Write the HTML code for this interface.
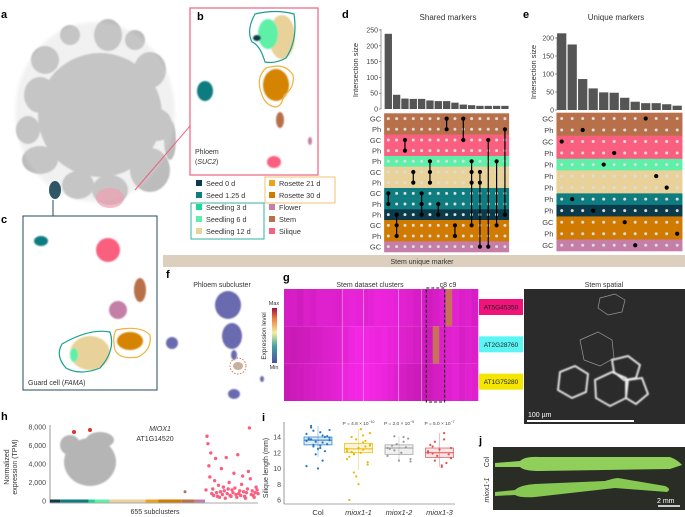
<!DOCTYPE html>
<html><head><meta charset="utf-8">
<style>
html,body{margin:0;padding:0;background:#fff;}
svg{display:block;font-family:"Liberation Sans",sans-serif;}
</style></head>
<body>
<svg id="fig" width="685" height="517" viewBox="0 0 685 517" xmlns="http://www.w3.org/2000/svg">
<defs>
<filter id="blur1"><feGaussianBlur stdDeviation="0.8"/></filter>
<filter id="blur2"><feGaussianBlur stdDeviation="1.6"/></filter>
</defs>

<!-- Panel a -->
<g>
<text x="1" y="18" font-size="11" font-weight="bold">a</text>
<g fill="#bcbcbc" filter="url(#blur1)">
<ellipse cx="100" cy="115" rx="62" ry="62"/>
<ellipse cx="108" cy="35" rx="14" ry="16"/>
<ellipse cx="70" cy="35" rx="10" ry="10"/>
<ellipse cx="45" cy="60" rx="14" ry="14"/>
<ellipse cx="40" cy="95" rx="16" ry="18"/>
<ellipse cx="28" cy="130" rx="12" ry="14"/>
<ellipse cx="40" cy="160" rx="18" ry="14"/>
<ellipse cx="78" cy="185" rx="16" ry="14"/>
<ellipse cx="110" cy="190" rx="18" ry="15"/>
<ellipse cx="150" cy="170" rx="20" ry="22"/>
<ellipse cx="158" cy="125" rx="14" ry="16"/>
<ellipse cx="150" cy="70" rx="16" ry="18"/>
<ellipse cx="135" cy="40" rx="10" ry="10"/>
<ellipse cx="170" cy="140" rx="6" ry="20"/>
</g>
<ellipse cx="95" cy="112" rx="80" ry="90" fill="#d8d8d8" opacity="0.35" filter="url(#blur2)"/>
<ellipse cx="110" cy="198" rx="14" ry="10" fill="#f0a0b0" opacity="0.7"/>
<ellipse cx="55" cy="190" rx="6" ry="9" fill="#0b3a4a" opacity="0.85"/>
<line x1="135" y1="190" x2="190" y2="126" stroke="#f06080" stroke-width="1"/>
<line x1="53" y1="200" x2="53" y2="216" stroke="#244a5a" stroke-width="1"/>
</g>

<!-- Panel b -->
<g>
<rect x="190" y="8" width="128" height="167" fill="none" stroke="#f06080" stroke-width="1.2"/>
<text x="197" y="20" font-size="11" font-weight="bold">b</text>
<g filter="url(#blur1)">
<ellipse cx="282" cy="37" rx="13" ry="22" fill="#e8d29a"/>
<ellipse cx="268" cy="34" rx="10" ry="15" fill="#5ef0a8"/>
<ellipse cx="257" cy="38" rx="4" ry="3" fill="#0b3a4a"/>
<ellipse cx="276" cy="85" rx="13" ry="16" fill="#d48400"/>
<ellipse cx="205" cy="91" rx="8" ry="10" fill="#0f7c80"/>
<ellipse cx="280" cy="120" rx="4" ry="8" fill="#b8704a"/>
<ellipse cx="310" cy="141" rx="2" ry="4" fill="#c47ea8"/>
<ellipse cx="274" cy="162" rx="7" ry="6" fill="#fb5f80"/>
</g>
<path d="M255 14 Q276 9 294 14 Q298 40 286 58 Q275 64 265 62 Q260 45 252 42 Q246 30 255 14Z" fill="none" stroke="#17a090" stroke-width="1.2"/>
<path d="M266 68 Q285 62 293 75 Q295 88 284 95 Q282 106 276 107 Q266 106 262 95 Q255 78 266 68Z" fill="none" stroke="#f0b040" stroke-width="1.2"/>
<text x="195" y="154" font-size="7" fill="#333">Phloem</text>
<text x="195" y="164" font-size="7" fill="#333">(<tspan font-style="italic">SUC2</tspan>)</text>
</g>

<!-- Legend -->
<g id="legend" font-size="7.3" fill="#333">
<rect x="191" y="203" width="73" height="36" fill="none" stroke="#30b0a0" stroke-width="1"/>
<rect x="265" y="177" width="70" height="26" fill="none" stroke="#f0c070" stroke-width="1"/>
</g>

<!-- Panel c -->
<g>
<text x="1" y="223" font-size="11" font-weight="bold">c</text>
<rect x="23" y="216" width="134" height="174" fill="none" stroke="#244a5a" stroke-width="1"/>
<g filter="url(#blur1)">
<ellipse cx="41" cy="241" rx="7" ry="5" fill="#0f7c80"/>
<ellipse cx="108" cy="250" rx="12" ry="12" fill="#fb5f80"/>
<ellipse cx="140" cy="290" rx="6" ry="12" fill="#b8704a"/>
<ellipse cx="118" cy="310" rx="9" ry="9" fill="#c47ea8"/>
<ellipse cx="90" cy="353" rx="20" ry="17" fill="#e8d29a"/>
<ellipse cx="74" cy="355" rx="4" ry="7" fill="#5ef0a8"/>
<ellipse cx="130" cy="341" rx="13" ry="9" fill="#d48400"/>
</g>
<path d="M62 344 Q90 328 110 332 Q116 350 100 368 Q80 376 66 368 Q55 356 62 344Z" fill="none" stroke="#17a090" stroke-width="1.2"/>
<path d="M116 330 Q140 325 150 335 Q152 350 138 357 Q120 360 115 350 Q112 338 116 330Z" fill="none" stroke="#f0b040" stroke-width="1.2"/>
<text x="28" y="385" font-size="7" fill="#333">Guard cell (<tspan font-style="italic">FAMA</tspan>)</text>
</g>

<!-- Panel d -->
<g id="panelD">
<text x="342" y="18" font-size="11" font-weight="bold">d</text>
<text x="448" y="20" font-size="8" text-anchor="middle" fill="#333">Shared markers</text>
<text transform="translate(358,70) rotate(-90)" font-size="7.5" text-anchor="middle" fill="#333">Intersection size</text>
</g>
<!-- Panel e -->
<g id="panelE">
<text x="523" y="18" font-size="11" font-weight="bold">e</text>
<text x="616" y="20" font-size="8" text-anchor="middle" fill="#333">Unique markers</text>
<text transform="translate(536,72) rotate(-90)" font-size="7.5" text-anchor="middle" fill="#333">Intersection size</text>
</g>

<!-- Stem unique band -->
<rect x="163" y="255" width="522" height="12" fill="#dccfbd"/>
<text x="422" y="264" font-size="7" text-anchor="middle" fill="#333">Stem unique marker</text>

<!-- Panel f -->
<g>
<text x="166" y="278" font-size="11" font-weight="bold">f</text>
<text x="222" y="287" font-size="7" text-anchor="middle" fill="#333">Phloem subcluster</text>
<g fill="#6a6ab0" filter="url(#blur1)">
<ellipse cx="228" cy="305" rx="13" ry="14"/>
<ellipse cx="232" cy="336" rx="10" ry="13"/>
<ellipse cx="234" cy="355" rx="3" ry="5"/>
<ellipse cx="172" cy="343" rx="6" ry="6"/>
<ellipse cx="234" cy="394" rx="6" ry="5"/>
<ellipse cx="262" cy="379" rx="2" ry="3"/>
</g>
<ellipse cx="238" cy="366" rx="5" ry="4" fill="#c8b0a0"/>
<circle cx="238" cy="366" r="8" fill="none" stroke="#d07030" stroke-width="0.9" stroke-dasharray="1.5 1.5"/>
<defs><linearGradient id="spec" x1="0" y1="1" x2="0" y2="0">
<stop offset="0" stop-color="#5050a0"/><stop offset="0.3" stop-color="#40a0a0"/><stop offset="0.55" stop-color="#f0f0a0"/><stop offset="0.8" stop-color="#f08040"/><stop offset="1" stop-color="#a01040"/></linearGradient></defs>
<rect x="272" y="308" width="5" height="55" fill="url(#spec)"/>
<text x="274" y="305" font-size="5.5" text-anchor="middle" fill="#333">Max</text>
<text x="274" y="369" font-size="5.5" text-anchor="middle" fill="#333">Min</text>
<text transform="translate(266,336) rotate(-90)" font-size="6.5" text-anchor="middle" fill="#333">Expression level</text>
</g>

<!-- Panel g -->
<g id="panelG">
<text x="283" y="281" font-size="11" font-weight="bold">g</text>
<text x="370" y="287" font-size="7" text-anchor="middle" fill="#333">Stem dataset clusters</text>
<text x="448" y="287" font-size="7" text-anchor="middle" fill="#333">c8 c9</text>
</g>

<!-- Micrograph -->
<g>
<text x="604" y="287" font-size="7" text-anchor="middle" fill="#333">Stem spatial</text>
<rect x="524" y="289" width="161" height="135" fill="#2b2b2b"/>
<g fill="none" stroke="#c8c8c8" stroke-width="0.7" opacity="0.7">
<path d="M600 298 L615 294 L625 300 L622 312 L608 315 L598 308Z"/>
<path d="M580 340 L598 332 L612 340 L614 358 L600 366 L584 360Z"/>
</g>
<g fill="none" stroke="#f2f2f2" stroke-width="1.8" filter="url(#blur1)">
<path d="M560 372 L575 366 L588 374 L586 392 L572 398 L558 390Z"/>
<path d="M595 380 L612 372 L626 378 L626 398 L610 406 L596 398Z"/>
<path d="M612 360 L628 356 L640 365 L636 378 L624 380 L614 372Z"/>
<path d="M628 380 L642 378 L648 394 L636 404 L626 398Z"/>
</g>
<line x1="527" y1="421" x2="634" y2="421" stroke="#fff" stroke-width="2"/>
<text x="528" y="417" font-size="7" fill="#fff">100 µm</text>
</g>

<!-- Panel h -->
<g id="panelH">
<text x="1" y="420" font-size="11" font-weight="bold">h</text>
<text transform="translate(9,467) rotate(-90)" font-size="7" text-anchor="middle" fill="#333">Normalized</text>
<text transform="translate(17,467) rotate(-90)" font-size="7" text-anchor="middle" fill="#333">expression (TPM)</text>
<g fill="#b5b5b5" filter="url(#blur1)">
<ellipse cx="90" cy="462" rx="26" ry="24"/>
<ellipse cx="70" cy="445" rx="10" ry="10"/>
<ellipse cx="100" cy="440" rx="14" ry="8"/>
</g>
<circle cx="74" cy="432" r="2" fill="#e03030"/><circle cx="90" cy="430" r="2" fill="#e03030"/>
<text x="160" y="431" font-size="7" text-anchor="middle" font-style="italic" fill="#333">MIOX1</text>
<text x="155" y="441" font-size="7" text-anchor="middle" fill="#333">AT1G14520</text>
<text x="155" y="514" font-size="7" text-anchor="middle" fill="#333">655 subclusters</text>
</g>

<!-- Panel i -->
<g id="panelI">
<text x="262" y="421" font-size="11" font-weight="bold">i</text>
<text transform="translate(268,468) rotate(-90)" font-size="7" text-anchor="middle" fill="#333">Silique length (mm)</text>
</g>

<!-- Panel j -->
<g>
<text x="479" y="444" font-size="11" font-weight="bold">j</text>
<rect x="493" y="447" width="192" height="63" fill="#2a2c26"/>
<path d="M495 463 L520 461 Q525 456 540 457 L670 457 Q678 460 682 465 L670 469 L540 471 Q524 471 520 467 L495 467Z" fill="#8fcf5a"/>
<path d="M495 492 L515 490 Q520 485 535 484 L605 481 Q615 478 618 478 L665 486 Q672 489 667 492 L615 488 L535 497 Q520 498 515 495 L495 496Z" fill="#86c852"/>
<text transform="translate(489,462) rotate(-90)" font-size="7" text-anchor="middle" fill="#333">Col</text>
<text transform="translate(489,490) rotate(-90)" font-size="7" text-anchor="middle" font-style="italic" fill="#333">miox1-1</text>
<line x1="658" y1="506" x2="680" y2="506" stroke="#fff" stroke-width="1.5"/>
<text x="657" y="503" font-size="7" fill="#fff">2 mm</text>
</g>
</svg>

<script>
// ---- data ----
const legendLabels = ["Seed 0 d","Seed 1.25 d","Seedling 3 d","Seedling 6 d","Seedling 12 d","Rosette 21 d","Rosette 30 d","Flower","Stem","Silique"];
const legendColors = ["#0b3a4a","#0f7c80","#18d89a","#5ef0a8","#e8d29a","#eba21d","#d07a00","#c47ea8","#b8704a","#fb5f80"];

const dSizes = [238,45,33,32,32,27,25,25,20,14,12,10,10,10,10];
const dRowLabels = ["GC","Ph","GC","Ph","Ph","GC","Ph","GC","Ph","Ph","GC","Ph","GC"];
const dRowColors = ["#b8704a","#b8704a","#fb5f80","#fb5f80","#5ef0a8","#e8d29a","#e8d29a","#0f7c80","#0f7c80","#0b3a4a","#d07a00","#d07a00","#c47ea8"];
const dSets = [[7,8],[9,10,11],[2,3],[5,6],[7,8,9],[4,5,6],[8,9],[0,1],[10,11],[0,2],[4,5,6,10],[5,6,12],[2,12],[4,10],[1,9]];
const dTicks = [0,50,100,150,200,250];

const eSizes = [213,182,86,60,49,48,34,23,19,19,16,12];
const eRowLabels = ["GC","Ph","GC","Ph","Ph","Ph","Ph","Ph","Ph","GC","Ph","GC"];
const eRowColors = ["#b8704a","#b8704a","#fb5f80","#fb5f80","#5ef0a8","#e8d29a","#e8d29a","#0f7c80","#0b3a4a","#d07a00","#d07a00","#c47ea8"];
const eSets = [2,7,1,8,4,3,9,11,0,5,6,10];
const eTicks = [0,50,100,150,200];

const gGenes = ["AT5G45350","AT2G28760","AT1G75280"];
const gGeneColors = ["#f0147a","#5cf5f5","#f5e600"];
const gRow1 = [0.45,0.5,0.4,0.55,0.5,0.6,0.62,0.6,0.55,0.7,0.75,0.7,0.65,0.72,0.8,0.78,0.75,0.7,0.65,0.6,0.5,0.45,0.4,0.5,0.6,0.75,0.65,0.55,0.6,0.5];
const gRow2 = [0.35,0.3,0.35,0.4,0.45,0.5,0.55,0.6,0.65,0.7,0.85,0.9,0.88,0.85,0.8,0.85,0.75,0.7,0.6,0.55,0.45,0.4,0.35,0.5,0.55,0.6,0.65,0.5,0.6,0.55];
const gRow3 = [0.3,0.35,0.4,0.45,0.5,0.55,0.6,0.65,0.7,0.8,0.88,0.92,0.95,0.9,0.85,0.8,0.7,0.6,0.5,0.4,0.35,0.3,0.35,0.45,0.5,0.6,0.7,0.55,0.65,0.6];

const hTicks = [0,2000,4000,6000,8000];
const hSegColors = ["#0b3a4a","#0f7c80","#18d89a","#5ef0a8","#e8d29a","#eba21d","#d07a00","#b8704a","#c47ea8"];
const hSegCounts = [20,55,12,28,70,25,45,25,20];
const hSilique = [1200,7000,6200,3800,2600,5200,800,1300,600,2200,4600,900,500,1700,400,1000,3500,700,1500,1100,300,4700,800,1300,2000,600,500,1200,900,3000,1400,700,400,5000,800,1100,600,1800,2700,1000,500,300,900,1300,3200,7900,2400,700,1100,600,400,900,1500,1200,800];

const iGroups = ["Col","miox1-1","miox1-2","miox1-3"];
const iColors = ["#1f78c8","#e8b800","#9a9a9a","#e05050"];
const iQ1 = [13.0,12.0,11.8,11.4];
const iMed = [13.6,12.5,12.6,12.0];
const iQ3 = [14.0,13.2,13.0,12.6];
const iLo = [11.5,9.8,10.9,10.2];
const iHi = [15.4,15.0,14.1,14.5];
const iPvals = ["","P = 4.8 × 10","P = 2.0 × 10","P = 5.0 × 10"];
const iPexp = ["","−10","−5","−7"];
const iColPts = [13.5,14.2,12.8,13.9,14.6,15.2,13.1,12.5,13.7,14.0,11.8,10.3,13.3,14.8,13.6,12.9,15.4,14.1,10.0,13.8,12.2,13.4,14.4,11.0,13.0,14.9,12.6,13.7];
const iM1Pts = [12.5,13.3,11.9,14.5,15.0,12.1,10.5,8.0,6.0,12.8,13.7,11.2,12.4,9.5,13.0,12.0,14.0,10.8,12.6,11.5,13.5,9.0,12.2,14.2,11.8,12.9];
const iM2Pts = [12.6,13.4,14.1,11.2,12.0,12.9,13.8,11.0,12.5,12.7,13.1,11.6,14.0,12.3,10.9];
const iM3Pts = [12.0,14.5,13.4,11.3,10.2,12.8,11.8,12.4,13.0,10.7,11.6,12.2,13.7,11.0,12.6,10.4,11.9];
const iTicks = [6,8,10,12,14];

// ---- helpers ----
const NS = "http://www.w3.org/2000/svg";
const fig = document.getElementById("fig");
function mk(tag, attrs, parent){
  const e = document.createElementNS(NS, tag);
  for (const k in attrs) e.setAttribute(k, attrs[k]);
  (parent||fig).appendChild(e);
  return e;
}

// legend
const legend = document.getElementById("legend");
legendLabels.forEach((lab,i)=>{
  const col = i<5?0:1, row = i<5?i:i-5;
  const x = col? 269:196, y = 180+row*12;
  const r = mk("rect",{x:x,y:y,width:6,height:6,fill:legendColors[i]},legend);
  
  
  const t = mk("text",{x:x+10,y:y+6,"font-size":7.3,fill:"#333"},legend);
  t.textContent = lab;
  
  
});

// upset drawer
function upset(g, sizes, ticks, tMax, axX, yZero, yTop, colX0, colStep, mTop, mBot, rowLabels, rowColors, setsFn){
  const yS = v => yZero - (v/tMax)*(yZero-yTop);
  const ax = mk("line",{x1:axX,y1:yTop-1,x2:axX,y2:yZero,stroke:"#555","stroke-width":0.6},g);
  
  
  ticks.forEach(t=>{
    mk("line",{x1:axX-2,y1:yS(t),x2:axX,y2:yS(t),stroke:"#555","stroke-width":0.6},g);
    const tx = mk("text",{x:axX-3,y:yS(t)+2.5,"font-size":7,"text-anchor":"end",fill:"#444"},g);
    tx.textContent = t;
    
    
  });
  const bw = colStep*0.88;
  sizes.forEach((v,i)=>{
    const cx = colX0 + i*colStep;
    const b = mk("rect",{x:cx-bw/2,y:yS(v),width:bw,height:yZero-yS(v),fill:"#555"},g);
    
    
  });
  const rh = (mBot-mTop)/rowLabels.length;
  const x0 = colX0-colStep/2, x1 = colX0+(sizes.length-0.5)*colStep;
  rowLabels.forEach((lab,r)=>{
    const band = mk("rect",{x:x0,y:mTop+r*rh,width:x1-x0,height:rh+0.3,fill:rowColors[r]},g);
    
    
    const t = mk("text",{x:x0-3,y:mTop+r*rh+rh/2+2.8,"font-size":7.5,"text-anchor":"end",fill:"#444"},g);
    t.textContent = lab;
    
    
    sizes.forEach((v,i)=>{
      mk("circle",{cx:colX0+i*colStep,cy:mTop+r*rh+rh/2,r:1.5,fill:"#dcdcdc"},g);
    });
  });
  sizes.forEach((v,i)=>{
    const rows = setsFn(i);
    const cx = colX0+i*colStep;
    const ys = rows.map(r=>mTop+r*rh+rh/2);
    if (rows.length>1){
      const l = mk("line",{x1:cx,y1:Math.min(...ys),x2:cx,y2:Math.max(...ys),stroke:"#000","stroke-width":1.2},g);
      
      
    }
    ys.forEach(y=>{
      const d = mk("circle",{cx:cx,cy:y,r:2.1,fill:"#000"},g);
      
      
    });
  });
}
upset(document.getElementById("panelD"), dSizes, dTicks, 250, 381, 109, 30, 388.3, 8.33, 113.3, 252, dRowLabels, dRowColors, i=>dSets[i]);
upset(document.getElementById("panelE"), eSizes, eTicks, 200, 557, 110, 38, 561.7, 10.5, 112.7, 251, eRowLabels, eRowColors, i=>[eSets[i]]);

// heatmap g
const gG = document.getElementById("panelG");
const gx0=284, gx1=478, gy0=289, gy1=401;
const gRows=[gRow1,gRow2,gRow3];
const nC = gRow1.length, cw=(gx1-gx0)/nC, rhg=(gy1-gy0)/3;
function mag(v){ const r=Math.round(180+70*v), g=Math.round(20+20*v), b=Math.round(160+75*v); return `rgb(${r},${g},${b})`; }
gRows.forEach((row,ri)=>{
  row.forEach((v,ci)=>{
    let f = mag(v);
    if ((ri===0 && ci===25) || (ri===1 && ci===23)) f = "#c8705a";
    const c = mk("rect",{x:gx0+ci*cw,y:gy0+ri*rhg,width:cw+0.3,height:rhg,fill:f},gG);
    
    
  });
  const lb = mk("rect",{x:479,y:gy0+ri*rhg+10,width:44,height:16,fill:gGeneColors[ri]},gG);
  
  
  const lt = mk("text",{x:501,y:gy0+ri*rhg+20.5,"font-size":6.5,"text-anchor":"middle",fill:"#222"},gG);
  lt.textContent = gGenes[ri];
  
  
});
[0.3,0.41,0.59,0.71].forEach(f=>mk("line",{x1:gx0+f*(gx1-gx0),y1:gy0,x2:gx0+f*(gx1-gx0),y2:gy1,stroke:"#f0b0f0","stroke-width":0.6},gG));
const db = mk("rect",{x:gx0+22*cw,y:gy0-1,width:3*cw-1,height:gy1-gy0+2,fill:"none",stroke:"#111","stroke-width":1,"stroke-dasharray":"3 2"},gG);



// panel h
const hG = document.getElementById("panelH");
const hx0=50, hx1=258, hy0=501, hy1=427;
const hY = v => hy0 - v/8000*(hy0-hy1);
mk("line",{x1:hx0,y1:hy1-2,x2:hx0,y2:hy0+2,stroke:"#555","stroke-width":0.6},hG);
mk("line",{x1:hx0,y1:hy0+2,x2:hx1,y2:hy0+2,stroke:"#555","stroke-width":0.6},hG);
hTicks.forEach(t=>{
  const tx = mk("text",{x:hx0-4,y:hY(t)+2.5,"font-size":7,"text-anchor":"end",fill:"#444"},hG);
  tx.textContent = t.toLocaleString("en-US");
  
  
});
const totalSeg = hSegCounts.reduce((a,b)=>a+b,0);
const segEnd = 205;
let sx = hx0;
hSegCounts.forEach((n,i)=>{
  const w = n/totalSeg*(segEnd-hx0);
  const s = mk("rect",{x:sx,y:hy0-1.5,width:w,height:3,fill:hSegColors[i]},hG);
  
  
  sx += w;
});
mk("circle",{cx:185,cy:hY(1000),r:1.5,fill:"#b8704a"},hG);
const hStep = (hx1-segEnd)/hSilique.length;
hSilique.forEach((v,i)=>{
  const p = mk("circle",{cx:segEnd+1+i*hStep,cy:hY(v),r:1.7,fill:"#fb5f80"},hG);
  
  
});

// panel i
const iG = document.getElementById("panelI");
const ix0=284, ix1=455, iy0=500, iy1=437;
const iY = v => iy0 - (v-6)/(14-6)*(iy0-iy1);
const iX = k => 318 + k*40.5;
mk("line",{x1:ix0,y1:422,x2:ix0,y2:504,stroke:"#555","stroke-width":0.6},iG);
mk("line",{x1:ix0,y1:504,x2:ix1,y2:504,stroke:"#555","stroke-width":0.6},iG);
iTicks.forEach(t=>{
  const tx = mk("text",{x:ix0-3,y:iY(t)+2.5,"font-size":7,"text-anchor":"end",fill:"#444"},iG);
  tx.textContent = t;
  
  
});
const iPts=[iColPts,iM1Pts,iM2Pts,iM3Pts];
iGroups.forEach((gname,k)=>{
  const cx = iX(k), c = iColors[k];
  mk("line",{x1:cx,y1:iY(iHi[k]),x2:cx,y2:iY(iLo[k]),stroke:c,"stroke-width":0.6,opacity:0.6},iG);
  const bx = mk("rect",{x:cx-14,y:iY(iQ3[k]),width:28,height:iY(iQ1[k])-iY(iQ3[k]),fill:c,"fill-opacity":0.15,stroke:c,"stroke-width":0.7},iG);
  
  
  mk("line",{x1:cx-14,y1:iY(iMed[k]),x2:cx+14,y2:iY(iMed[k]),stroke:c,"stroke-width":1},iG);
  iPts[k].forEach((v,j)=>{
    const off = ((j*7)%11-5)*2.3;
    const p = mk("circle",{cx:cx+off,cy:iY(v),r:1.1,fill:c},iG);
    
    
  });
  const lx = mk("text",{x:cx,y:515,"font-size":7.5,"text-anchor":"middle",fill:"#333","font-style":k?"italic":"normal"},iG);
  lx.textContent = gname;
  
  
  if (iPvals[k]){
    const pt = mk("text",{x:cx,y:425,"font-size":4.8,"text-anchor":"middle",fill:"#444"},iG);
    pt.textContent = iPvals[k];
    const sp = document.createElementNS(NS,"tspan");
    sp.setAttribute("dy","-2"); sp.setAttribute("font-size","3.5");
    sp.textContent = iPexp[k];
    pt.appendChild(sp);
    
    
  }
});
</script>
</body></html>
